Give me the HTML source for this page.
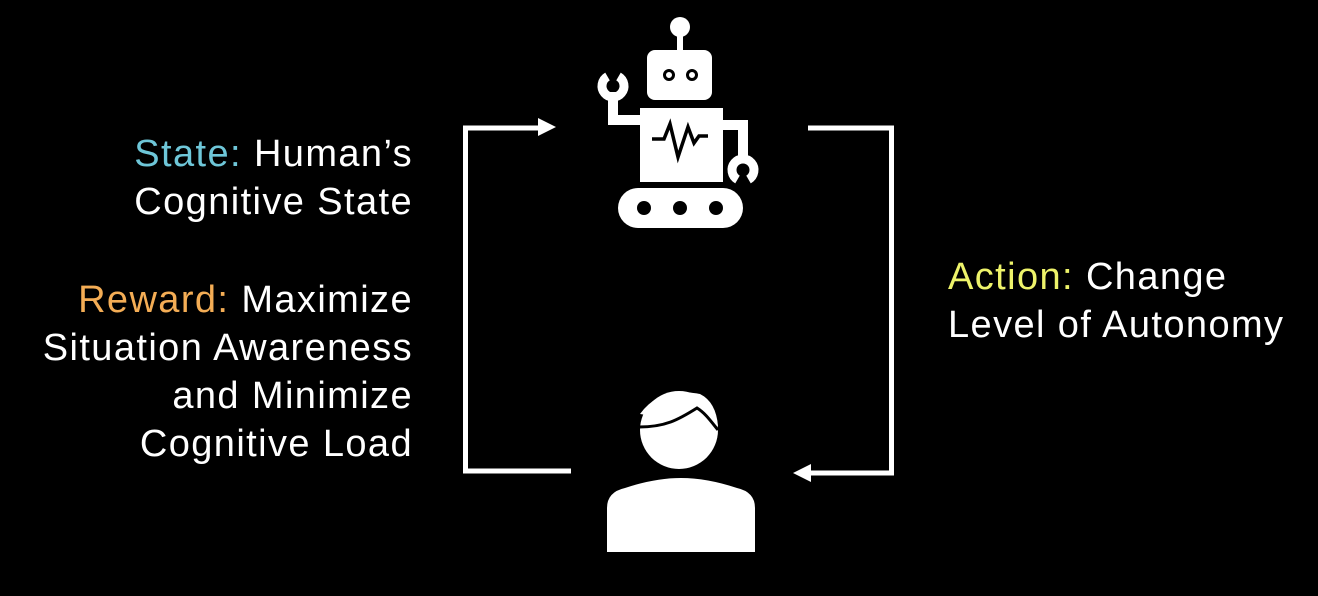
<!DOCTYPE html>
<html><head><meta charset="utf-8"><style>
html,body{margin:0;padding:0;background:#000;}
body{width:1318px;height:596px;position:relative;overflow:hidden;font-family:"Liberation Sans",Arial,sans-serif;color:#fff;}
.t{position:absolute;font-size:38px;letter-spacing:1.4px;line-height:48px;white-space:nowrap;}
.l{right:905px;text-align:right;}
</style></head><body>
<div class="t l" style="top:130px"><span style="color:#6ec6d8">State:</span> Human’s<br>Cognitive State</div>
<div class="t l" style="top:276px"><span style="color:#f4ad55">Reward:</span> Maximize<br>Situation Awareness<br>and Minimize<br>Cognitive Load</div>
<div class="t" style="left:948px;top:253px"><span style="color:#eef36a">Action:</span> Change<br>Level of Autonomy</div>
<svg width="1318" height="596" style="position:absolute;left:0;top:0">
<g fill="none" stroke="#fff" stroke-width="5">
<polyline points="571,471 465.5,471 465.5,128 540,128"/>
<polyline points="808,128 891.5,128 891.5,473 808,473"/>
</g>
<polygon points="538,118 556,127 538,136" fill="#fff"/>
<polygon points="811,464 793,473 811,482" fill="#fff"/>
<!-- robot -->
<g fill="#fff">
<circle cx="680" cy="27" r="10"/>
<rect x="677" y="34" width="6" height="18"/>
<rect x="647" y="50" width="65" height="50" rx="8"/>
<rect x="640" y="108" width="83" height="74"/>
<rect x="608" y="92" width="10" height="33"/>
<rect x="608" y="115" width="34" height="10"/>
<rect x="721" y="120" width="27" height="10"/>
<rect x="738" y="120" width="10" height="40"/>
<rect x="618" y="188" width="125" height="40" rx="20"/>
</g>
<g fill="none" stroke="#fff" stroke-width="9">
<path d="M607.5,76.5 A11,11 0 1 0 618.5,76.5"/>
<path d="M737.5,179.5 A11,11 0 1 1 748.5,179.5"/>
</g>
<g fill="#000">
<circle cx="644" cy="208" r="7"/><circle cx="680" cy="208" r="7"/><circle cx="716" cy="208" r="7"/>
</g>
<g fill="none" stroke="#000" stroke-width="3">
<circle cx="669" cy="75" r="4.5"/><circle cx="692" cy="75" r="4.5"/>
</g>
<polyline points="652,139 664,139 670,124 678,157 688,127 694,143 699,136 708,136" fill="none" stroke="#000" stroke-width="3.5" stroke-linejoin="miter"/>
<!-- person -->
<circle cx="679" cy="430" r="39" fill="#fff"/>
<path d="M640,414 Q660,386 700,394 Q716,402 718,426 Z" fill="#fff"/>
<path d="M639,427 C665,427 678,420 697,408 C705,413 710,420 718,430" fill="none" stroke="#000" stroke-width="3"/>
<path d="M607,552 L607,508 Q607,492 625,488 Q655,478 681,478 Q707,478 737,488 Q755,492 755,508 L755,552 Z" fill="#fff"/>
</svg>
</body></html>
